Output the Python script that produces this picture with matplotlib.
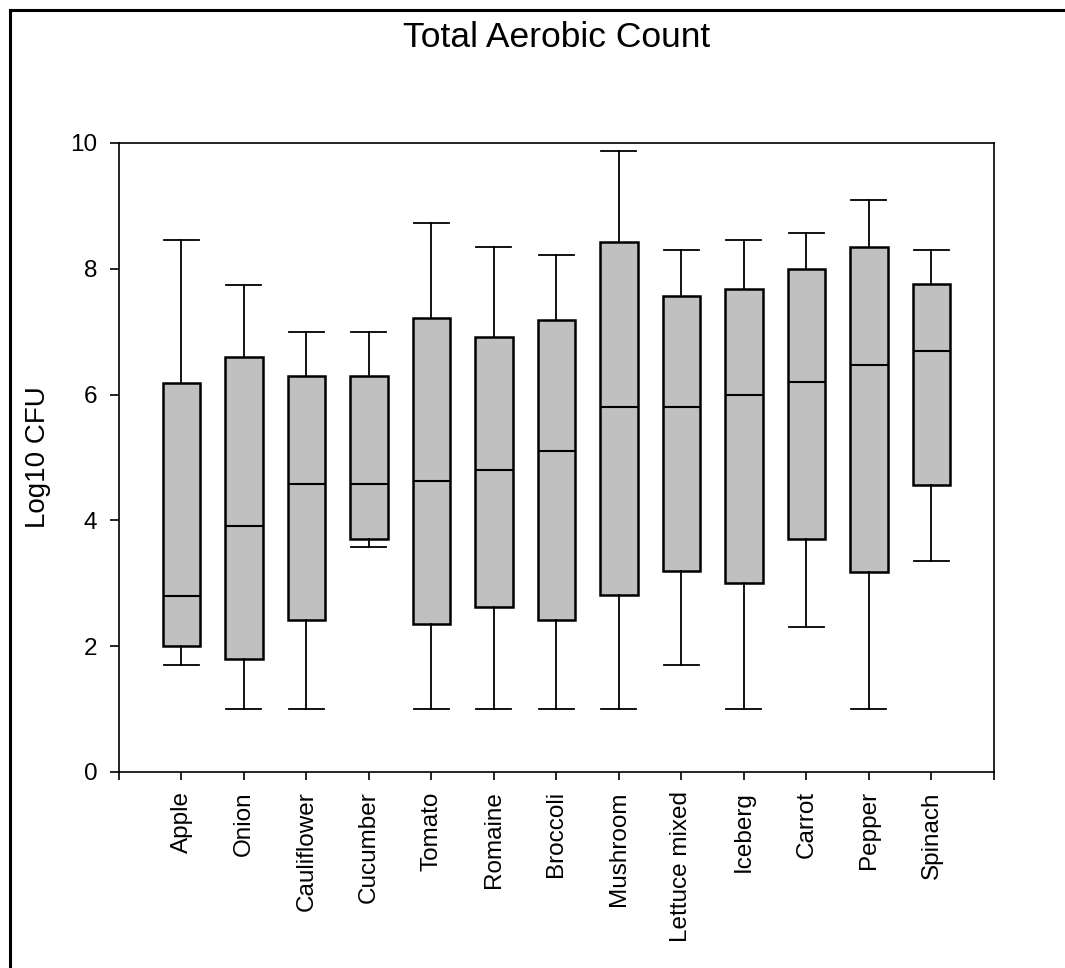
import matplotlib
matplotlib.use("Agg")
import matplotlib.pyplot as plt
from matplotlib.lines import Line2D

plt.rcParams["font.family"] = ["Liberation Sans", "DejaVu Sans"]

# box statistics (log10 CFU)
categories = ["Apple", "Onion", "Cauliflower", "Cucumber", "Tomato", "Romaine",
              "Broccoli", "Mushroom", "Lettuce mixed", "Iceberg", "Carrot",
              "Pepper", "Spinach"]
whisker_low = [1.70, 1.00, 1.00, 3.57, 1.00, 1.00, 1.00, 1.00, 1.70, 1.00, 2.30, 1.00, 3.35]
q1 = [2.00, 1.80, 2.42, 3.70, 2.36, 2.62, 2.42, 2.82, 3.20, 3.00, 3.70, 3.18, 4.57]
median = [2.80, 3.91, 4.58, 4.58, 4.62, 4.80, 5.10, 5.80, 5.80, 6.00, 6.20, 6.47, 6.70]
q3 = [6.18, 6.60, 6.30, 6.30, 7.22, 6.92, 7.18, 8.42, 7.56, 7.68, 8.00, 8.35, 7.76]
whisker_high = [8.45, 7.75, 7.00, 7.00, 8.73, 8.35, 8.22, 9.88, 8.30, 8.45, 8.57, 9.10, 8.30]

stats = []
for name, lo, a, m, b, hi in zip(categories, whisker_low, q1, median, q3, whisker_high):
    stats.append({"label": name, "whislo": lo, "q1": a, "med": m, "q3": b, "whishi": hi, "fliers": []})

fig = plt.figure(figsize=(10.65, 9.68), dpi=100, facecolor="white")
ax = fig.add_axes([0.1117, 0.2025, 0.8216, 0.6498])

positions = list(range(1, len(categories) + 1))
ax.bxp(stats, positions=positions, widths=0.6, capwidths=0.56, patch_artist=True,
       showfliers=False,
       boxprops=dict(facecolor="#c0c0c0", edgecolor="black", linewidth=1.8),
       medianprops=dict(color="black", linewidth=1.5),
       whiskerprops=dict(color="black", linewidth=1.3),
       capprops=dict(color="black", linewidth=1.3))

ax.set_xlim(0, len(categories) + 1)
ax.set_ylim(0, 10)
ax.set_yticks([0, 2, 4, 6, 8, 10])
ax.set_xticks([0] + positions + [len(categories) + 1])
ax.set_xticklabels([""] + categories + [""], rotation=90)
ax.tick_params(axis="both", direction="out", width=1.2, labelsize=17.5)
ax.tick_params(axis="x", length=5.8, pad=8.0)
ax.tick_params(axis="y", length=6.5, pad=9.0)
for spine in ax.spines.values():
    spine.set_linewidth(1.2)

ax.set_ylabel("Log10 CFU", fontsize=20)
ax.yaxis.set_label_coords(-0.078, 0.5)
fig.text(0.5225, 1 - 47 / 968, "Total Aerobic Count", fontsize=25.5, ha="center", va="baseline")

# partial border (top and left edges, as in the source image)
fig.add_artist(Line2D([0.0094, 1.0], [0.9897, 0.9897], transform=fig.transFigure,
                      color="black", linewidth=2.2))
fig.add_artist(Line2D([0.0094, 0.0094], [0.0, 0.9897], transform=fig.transFigure,
                      color="black", linewidth=2.2))

fig.savefig("out.png", dpi=100)
